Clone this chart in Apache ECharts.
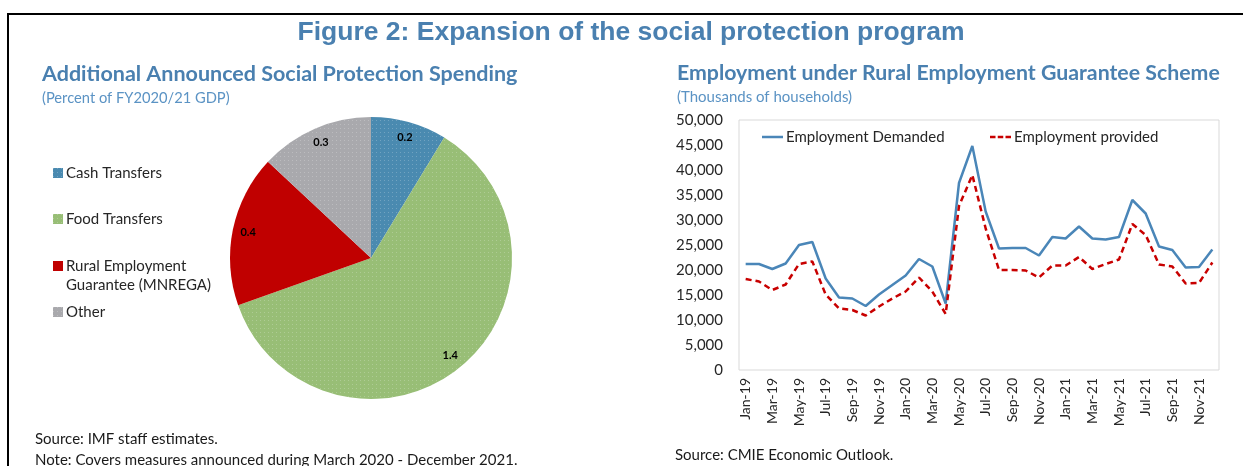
<!DOCTYPE html>
<html>
<head>
<meta charset="utf-8">
<title>Expansion of the social protection program</title>
<script src="https://cdn.jsdelivr.net/npm/echarts@6/dist/echarts.min.js"></script>
<style>
  html, body { margin: 0; padding: 0; background: #fff; }
  #chart { width: 1243px; height: 466px; }
</style>
</head>
<body>
<div id="chart"></div>
<script>
// Pie: additional announced social protection spending (% of FY2020/21 GDP)
const pieNames = ['Cash Transfers', 'Food Transfers', 'Rural Employment Guarantee (MNREGA)', 'Other'];
const pieValues = [0.2, 1.4, 0.4, 0.3];
const pieColors = ['#4A8AB0', '#98BE76', '#C00000', '#A9A9AD'];

// Line chart: rural employment guarantee scheme (thousands of households)
const months = [
  'Jan-19','Feb-19','Mar-19','Apr-19','May-19','Jun-19','Jul-19','Aug-19','Sep-19','Oct-19','Nov-19','Dec-19',
  'Jan-20','Feb-20','Mar-20','Apr-20','May-20','Jun-20','Jul-20','Aug-20','Sep-20','Oct-20','Nov-20','Dec-20',
  'Jan-21','Feb-21','Mar-21','Apr-21','May-21','Jun-21','Jul-21','Aug-21','Sep-21','Oct-21','Nov-21','Dec-21'
];
const demanded = [
  21200, 21200, 20200, 21300, 25000, 25600, 18300, 14500, 14300, 12800, 15100, 17000,
  18900, 22200, 20700, 13300, 37400, 44800, 31700, 24300, 24400, 24400, 22900, 26600,
  26300, 28700, 26300, 26100, 26600, 34000, 31300, 24700, 24000, 20500, 20600, 24100
];
const provided = [
  18200, 17700, 16000, 17100, 21200, 21700, 15100, 12300, 12000, 10900, 12700, 14300,
  15700, 18500, 15700, 11200, 32800, 39000, 28300, 20000, 20000, 19900, 18500, 20900,
  20900, 22600, 20200, 21200, 22100, 29200, 27000, 21100, 20700, 17300, 17400, 21500
];
const yTicks = { min: 0, max: 50000, step: 5000 };

const bodyFont = 'Lato, "Open Sans", sans-serif';
const titleBlue = '#4A80B0';
const lightBlue = '#5B93C4';
const textDark = '#262626';
const blueLine = '#4A86B8';
const redLine = '#C80000';

const dotDecal = {
  symbol: 'rect',
  symbolSize: 1,
  dashArrayX: [1, 3],
  dashArrayY: [1, 3],
  color: 'rgba(255,255,255,0.22)'
};

const pieData = pieNames.map((n, i) => ({
  name: n,
  value: pieValues[i],
  itemStyle: { color: pieColors[i], decal: i === 2 ? { symbol: 'none' } : dotDecal }
}));

function pieLegend(name, top, text) {
  return {
    data: [name],
    left: 53,
    top: top,
    padding: 0,
    orient: 'vertical',
    icon: 'rect',
    itemWidth: 10,
    itemHeight: 10,
    itemGap: 0,
    selectedMode: false,
    formatter: () => text,
    textStyle: { fontFamily: bodyFont, fontSize: 15, color: textDark, lineHeight: 18, padding: [0, 0, 0, -2] }
  };
}

function lineLegend(name, left, icon, color) {
  return {
    data: [{ name: name, icon: icon, itemStyle: { color: color } }],
    left: left,
    top: 128,
    padding: 0,
    itemWidth: 21,
    itemHeight: 2.5,
    selectedMode: false,
    textStyle: { fontFamily: bodyFont, fontSize: 15, color: textDark, lineHeight: 18, padding: [0, 0, 0, -2] }
  };
}

const chart = echarts.init(document.getElementById('chart'), null, { renderer: 'canvas' });

chart.setOption({
  animation: false,
  aria: { enabled: false, decal: { show: true } },
  title: [
    {
      text: 'Figure 2: Expansion of the social protection program',
      left: 631, top: 19, textAlign: 'center', padding: 0,
      textStyle: { fontFamily: '"Liberation Sans", Arial, sans-serif', fontWeight: 'bold', fontSize: 26.5, color: titleBlue }
    },
    {
      text: 'Additional Announced Social Protection Spending',
      left: 42, top: 63, padding: 0,
      textStyle: { fontFamily: bodyFont, fontWeight: 'bold', fontSize: 21.5, color: titleBlue }
    },
    {
      text: '(Percent of FY2020/21 GDP)',
      left: 42, top: 91, padding: 0,
      textStyle: { fontFamily: bodyFont, fontWeight: 'normal', fontSize: 14.7, color: lightBlue }
    },
    {
      text: 'Employment under Rural Employment Guarantee Scheme',
      left: 677, top: 63, padding: 0,
      textStyle: { fontFamily: bodyFont, fontWeight: 'bold', fontSize: 21.3, color: titleBlue }
    },
    {
      text: '(Thousands of households)',
      left: 677, top: 90, padding: 0,
      textStyle: { fontFamily: bodyFont, fontWeight: 'normal', fontSize: 15, color: lightBlue }
    }
  ],
  legend: [
    pieLegend(pieNames[0], 164, 'Cash Transfers'),
    pieLegend(pieNames[1], 210, 'Food Transfers'),
    pieLegend(pieNames[2], 257, 'Rural Employment'),
    pieLegend(pieNames[3], 303, 'Other'),
    lineLegend('Employment Demanded', 762, 'path://M0 0H21V2.5H0Z', blueLine),
    lineLegend('Employment provided', 990,
      'path://M0 0H5.5V2.5H0Z M7.75 0H13.25V2.5H7.75Z M15.5 0H21V2.5H15.5Z', redLine)
  ],
  graphic: [
    { type: 'line', shape: { x1: 8, y1: 14, x2: 1243, y2: 14 }, style: { stroke: '#000', lineWidth: 2 } },
    { type: 'line', shape: { x1: 8, y1: 13, x2: 8, y2: 466 }, style: { stroke: '#000', lineWidth: 2 } },
    { type: 'text', left: 66, top: 278, style: { text: 'Guarantee (MNREGA)', font: '15px ' + bodyFont, fill: textDark } },
    { type: 'text', left: 35, top: 432, style: { text: 'Source: IMF staff estimates.', font: '15px ' + bodyFont, fill: '#1a1a1a' } },
    { type: 'text', left: 35, top: 453, style: { text: 'Note: Covers measures announced during March 2020 - December 2021.', font: '15px ' + bodyFont, fill: '#1a1a1a' } },
    { type: 'text', left: 675, top: 448, style: { text: 'Source: CMIE Economic Outlook.', font: '15px ' + bodyFont, fill: '#1a1a1a' } }
  ],
  grid: {
    left: 739, right: 24, top: 120, bottom: 96,
    show: true, borderColor: '#D9D9D9', borderWidth: 1, backgroundColor: 'transparent'
  },
  xAxis: {
    type: 'category',
    data: months,
    boundaryGap: true,
    axisLine: { show: false },
    axisTick: { show: false },
    axisLabel: {
      interval: 1, rotate: 90, margin: 8,
      fontFamily: bodyFont, fontSize: 14, color: textDark
    }
  },
  yAxis: {
    type: 'value',
    min: yTicks.min, max: yTicks.max, interval: yTicks.step,
    axisLine: { show: false },
    axisTick: { show: false },
    splitLine: { show: false },
    axisLabel: {
      margin: 16,
      fontFamily: bodyFont, fontSize: 15, color: textDark,
      formatter: v => v.toLocaleString('en-US')
    }
  },
  series: [
    {
      type: 'pie',
      name: 'spending',
      center: [371, 258],
      radius: 141,
      startAngle: 90,
      clockwise: true,
      data: pieData,
      label: { show: false },
      labelLine: { show: false },
      silent: true
    },
    {
      // transparent ring that only carries the value labels near the rim
      type: 'pie',
      name: 'spending labels',
      center: [371, 258],
      radius: [104, 141],
      startAngle: 90,
      clockwise: true,
      data: pieNames.map((n, i) => ({ name: n, value: pieValues[i] })),
      itemStyle: { color: 'rgba(0,0,0,0)', decal: { symbol: 'none' } },
      label: {
        show: true, position: 'inside',
        formatter: p => p.value.toFixed(1),
        fontFamily: bodyFont, fontWeight: 'bold', fontSize: 11, color: '#000'
      },
      labelLine: { show: false },
      silent: true
    },
    {
      type: 'line',
      name: 'Employment Demanded',
      data: demanded,
      symbol: 'none',
      lineStyle: { color: blueLine, width: 2.5 },
      itemStyle: { color: blueLine }
    },
    {
      type: 'line',
      name: 'Employment provided',
      data: provided,
      symbol: 'none',
      lineStyle: { color: redLine, width: 2.5, type: [6, 4] },
      itemStyle: { color: redLine }
    }
  ]
});
</script>
</body>
</html>
